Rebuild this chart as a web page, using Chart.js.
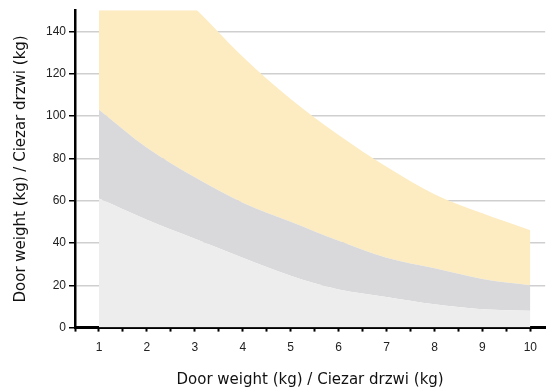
<!DOCTYPE html>
<html lang="en">
<head>
    <meta charset="UTF-8">
    <title>Door weight chart</title>
    <style>
        body {
            margin: 0;
            padding: 0;
            background-color: #ffffff;
        }
        .chart-box {
            width: 546px;
            height: 389px;
        }
    </style>
    <script src="https://cdn.jsdelivr.net/npm/chart.js"></script>
</head>
<body>

<div class="chart-box">
    <canvas id="doorChart" width="546" height="389"></canvas>
</div>

<script>
    // Values
    const weights = [1, 2, 3, 4, 5, 6, 7, 8, 9, 10];
    const lowerLimit = [61, 51, 42, 33, 24.5, 18, 14.5, 11, 8.7, 8];
    const middleLimit = [103, 85, 71, 59, 50, 41, 33, 28, 23, 20];
    const upperLimit = [200, 172, 151, 128, 108, 91, 76, 63, 54, 46];
    const yTicks = [0, 20, 40, 60, 80, 100, 120, 140];

    const axisTitle = 'Door weight (kg) / Ciezar drzwi (kg)';
    const titleFont = { family: 'DejaVu Sans, sans-serif', size: 15 };

    function toPoints(values) {
        return weights.map((w, i) => ({ x: w, y: values[i] }));
    }

    const ctx = document.getElementById('doorChart').getContext('2d');
    const doorChart = new Chart(ctx, {
        type: 'line',
        data: {
            datasets: [
                { label: 'low', data: toPoints(lowerLimit), fill: 'origin', backgroundColor: '#ededed' },
                { label: 'mid', data: toPoints(middleLimit), fill: '-1', backgroundColor: '#d9d9db' },
                { label: 'high', data: toPoints(upperLimit), fill: '-1', backgroundColor: '#fdecc2' }
            ]
        },
        options: {
            responsive: false,
            animation: false,
            layout: { padding: { top: 7, right: 0, left: 12, bottom: 0 } },
            elements: {
                line: { borderWidth: 0, cubicInterpolationMode: 'monotone' },
                point: { radius: 0 }
            },
            plugins: {
                legend: { display: false },
                tooltip: { enabled: false }
            },
            scales: {
                x: {
                    type: 'linear',
                    min: 0.5,
                    max: 10.31,
                    border: { color: '#000', width: 3 },
                    grid: { display: true, drawOnChartArea: false, tickColor: '#000', tickLength: 4, tickWidth: 2 },
                    ticks: {
                        stepSize: 0.5,
                        includeBounds: false,
                        autoSkip: false,
                        maxRotation: 0,
                        color: '#222',
                        padding: 9,
                        font: { family: 'Liberation Sans, Arial, sans-serif', size: 12 },
                        callback: v => Number.isInteger(v) ? v : ''
                    },
                    title: {
                        display: true,
                        text: axisTitle,
                        color: '#111',
                        padding: { top: 7, bottom: 0 },
                        font: titleFont
                    }
                },
                y: {
                    min: 0,
                    max: 150,
                    z: 1,
                    border: { color: '#000', width: 2.5 },
                    grid: {
                        color: ctx2 => ctx2.tick && ctx2.tick.value === 0 ? 'rgba(0,0,0,0)' : '#cfcfcf',
                        lineWidth: 1.5,
                        tickColor: '#000',
                        tickLength: 6
                    },
                    afterBuildTicks: axis => {
                        axis.ticks = yTicks.map(v => ({ value: v }));
                    },
                    ticks: {
                        color: '#222',
                        padding: 3,
                        font: { family: 'Liberation Sans, Arial, sans-serif', size: 12 }
                    },
                    title: {
                        display: true,
                        text: axisTitle,
                        color: '#111',
                        padding: { top: 0, bottom: 13 },
                        font: titleFont
                    }
                }
            }
        }
    });
</script>

</body>
</html>
